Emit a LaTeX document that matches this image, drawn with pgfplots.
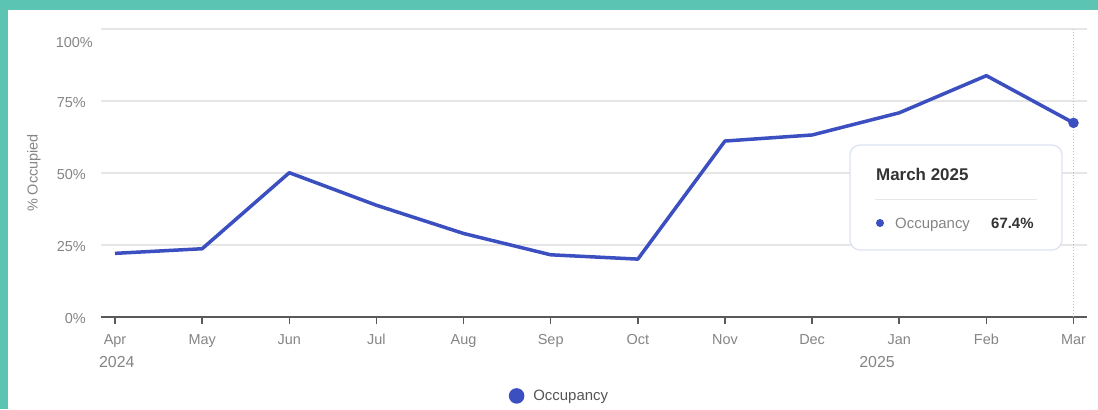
\documentclass[border=0pt]{standalone}
\usepackage{pgfplots}
\pgfplotsset{compat=1.18}
\usepackage{fontspec}
\setmainfont{Liberation Sans}
\definecolor{bordercol}{HTML}{5BC4B3}
\definecolor{occ}{HTML}{3B4FC0}
\definecolor{gridgrey}{HTML}{E6E6E6}
\definecolor{axisgrey}{HTML}{5A5A5A}
\definecolor{tickgrey}{HTML}{858585}
\definecolor{darktext}{HTML}{333333}
\definecolor{legendgrey}{HTML}{555555}
\definecolor{tipborder}{HTML}{DCE2F2}
\definecolor{sepgrey}{HTML}{E6E6E6}
\begin{document}
\begin{tikzpicture}[x=1bp,y=1bp]
\useasboundingbox (0,0) rectangle (1098,409);
\fill[bordercol] (0,0) rectangle (1098,409);
\fill[white] (8,0) rectangle (1098,399);
\begin{axis}[
  at={(101bp,92bp)}, anchor=south west,
  scale only axis, width=986bp, height=288bp,
  xmin=-0.161, xmax=11.155, ymin=0, ymax=100,
  clip=false,
  axis x line*=bottom, axis y line*=left,
  x axis line style={draw=axisgrey, line width=2bp},
  y axis line style={draw=none},
  ymajorgrids, grid style={gridgrey, line width=1.5bp},
  ytick={0,25,50,75,100},
  yticklabels={0\%,25\%,50\%,75\%,},
  ytick style={draw=none},
  xtick={0,...,11},
  xticklabels={Apr,May,Jun,Jul,Aug,Sep,Oct,Nov,Dec,Jan,Feb,Mar},
  tick align=outside, major tick length=7bp,
  xtick style={draw=axisgrey, line width=1.5bp},
  yticklabel style={anchor=east, inner sep=0pt, xshift=-8bp, yshift=-1.5bp, font=\fontsize{14.5}{17}\selectfont, text=tickgrey},
  xticklabel style={anchor=north, inner sep=0pt, yshift=-10bp, font=\fontsize{14.5}{17}\selectfont, text=tickgrey},
  ylabel={\% Occupied},
  ylabel style={at={(axis description cs:-0.068,0.5)}, anchor=center, font=\fontsize{14.5}{17}\selectfont, text=tickgrey},
  legend style={at={(axis description cs:0.465,-0.274)}, anchor=center, draw=none, fill=none, font=\fontsize{15}{18}\selectfont, text=legendgrey},
  legend image code/.code={\fill (6bp,0bp) circle (6bp); \path (19bp,0bp);},
]
\addplot[gray!50, dotted, line width=1bp, forget plot] coordinates {(11,0) (11,100)};
\addplot[occ, line width=3.5bp, line join=round] coordinates {
(0,22.1) (1,23.7) (2,50.1) (3,38.8) (4,29.0) (5,21.6) (6,20.1) (7,61.1) (8,63.2) (9,70.9) (10,83.8) (11,67.4)};
\addlegendentry{Occupancy}
\addplot[occ, only marks, mark=*, mark size=5bp, forget plot] coordinates {(11,67.4)};
\node[anchor=east, inner sep=0pt, xshift=-8bp, yshift=-14bp, font=\fontsize{14.5}{17}\selectfont, text=tickgrey] at (rel axis cs:0,1) {100\%};
\node[font=\fontsize{16}{19}\selectfont, text=tickgrey, yshift=-45bp] at (axis cs:0.02,0) {2024};
\node[font=\fontsize{16}{19}\selectfont, text=tickgrey, yshift=-45bp] at (axis cs:8.745,0) {2025};
\end{axis}
\draw[tipborder, line width=1.2bp, fill=white, rounded corners=10bp] (850,159) rectangle (1062,264);
\node[anchor=west, inner sep=0pt, font=\fontsize{17}{20}\selectfont\bfseries, text=darktext] at (876,235) {March 2025};
\draw[sepgrey, line width=1bp] (875,210) -- (1037,210);
\fill[occ] (880,186) circle (4bp);
\node[anchor=base west, inner sep=0pt, font=\fontsize{15}{18}\selectfont, text=tickgrey] at (895,181) {Occupancy};
\node[anchor=base west, inner sep=0pt, font=\fontsize{15}{18}\selectfont\bfseries, text=darktext] at (991,181) {67.4\%};
\end{tikzpicture}
\end{document}
